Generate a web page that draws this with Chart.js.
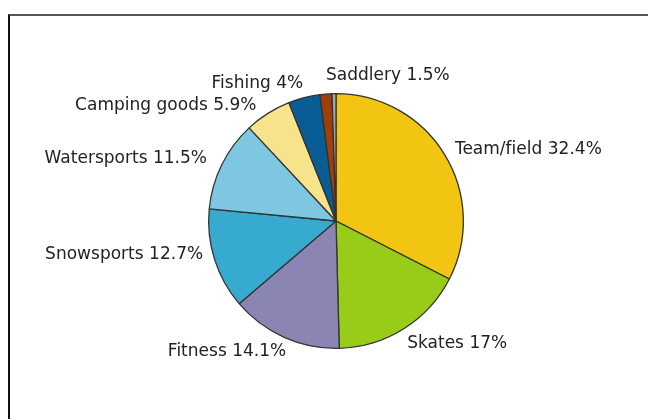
<!DOCTYPE html>
<html>
<head>
<meta charset="utf-8">
<script src="https://cdn.jsdelivr.net/npm/chart.js@4/dist/chart.umd.min.js"></script>
<style>
  html, body { margin: 0; padding: 0; background: #fff; }
  #wrap { position: relative; width: 648px; height: 419px; overflow: hidden; }
  #frame {
    position: absolute; left: 8px; top: 14px; width: 700px; height: 500px;
    border-top: 2px solid #555; border-left: 2px solid #111; box-sizing: border-box;
  }
  #myChart { position: absolute; left: 0; top: 0; }
</style>
</head>
<body>
<div id="wrap">
  <div id="frame"></div>
  <canvas id="myChart" width="648" height="419"></canvas>
</div>
<script>
const categories = ['Team/field', 'Skates', 'Fitness', 'Snowsports', 'Watersports', 'Camping goods', 'Fishing', 'Saddlery', ''];
const shares = [32.4, 17, 14.1, 12.7, 11.5, 5.9, 4, 1.5, 0.5];
const sliceColors = ['#f2c512', '#98cc18', '#8b85b3', '#37aacf', '#7ec7e0', '#f7e38b', '#075d94', '#a13f0a', '#a8a8a8'];

// small hand tweaks so the labels don't crowd the rim
const labelNudge = [[0, 1], [-3, 5], [7, 3], [0, -8], [-4, -1], [-5, 2], [2, -2], [1, -7], [0, 0]];

// labels outside the pie, "Name value%"
const outsideLabels = {
  id: 'outsideLabels',
  afterDatasetsDraw(chart) {
    const ctx = chart.ctx;
    const meta = chart.getDatasetMeta(0);
    ctx.save();
    ctx.font = '17px "DejaVu Sans", Verdana, sans-serif';
    ctx.letterSpacing = '0.01px'; // keeps "fi" from turning into a ligature
    ctx.fillStyle = '#222';
    ctx.textBaseline = 'middle';
    meta.data.forEach((arc, i) => {
      if (!categories[i]) return;
      const mid = (arc.startAngle + arc.endAngle) / 2;
      const r = arc.outerRadius + 12;
      const x = arc.x + Math.cos(mid) * r + labelNudge[i][0];
      const y = arc.y + Math.sin(mid) * r + labelNudge[i][1];
      ctx.textAlign = Math.cos(mid) > -0.15 ? 'left' : 'right';
      ctx.fillText(categories[i] + ' ' + shares[i] + '%', x, y);
    });
    ctx.restore();
  }
};

const data = {
  labels: categories,
  datasets: [{
    data: shares,
    backgroundColor: sliceColors,
    borderColor: '#333',
    borderWidth: 1.3
  }]
};

const config = {
  type: 'pie',
  data: data,
  options: {
    responsive: false,
    animation: false,
    layout: { padding: { top: 93, bottom: 70, left: 208, right: 184 } },
    plugins: {
      legend: { display: false },
      tooltip: { enabled: false }
    }
  },
  plugins: [outsideLabels]
};

const ctx = document.getElementById('myChart').getContext('2d');
const chart = new Chart(ctx, config);
</script>
</body>
</html>
